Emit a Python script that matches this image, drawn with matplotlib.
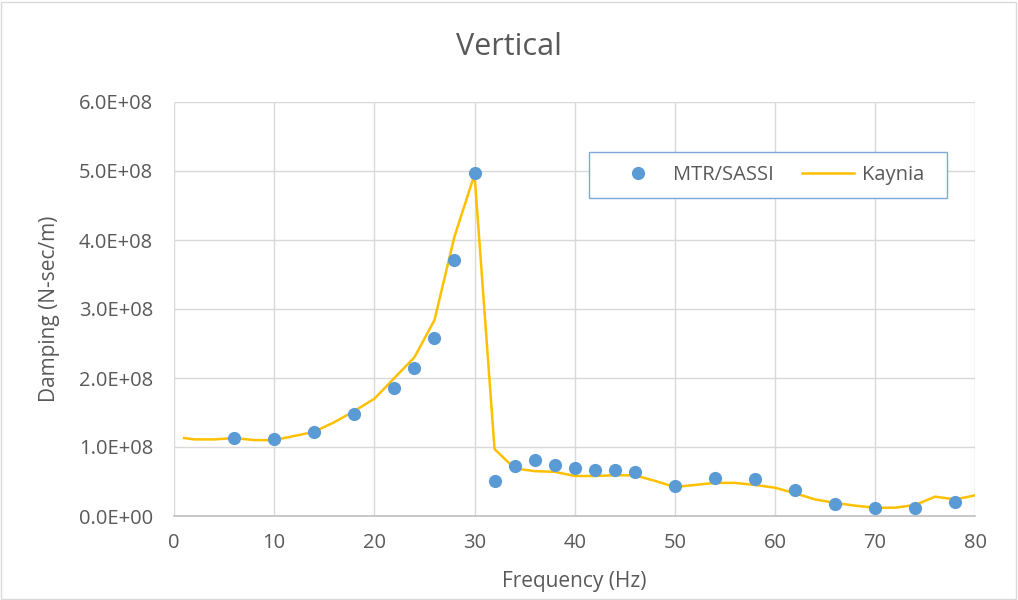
import numpy as np
import matplotlib.pyplot as plt
from matplotlib.patches import Rectangle

plt.rcParams['font.family'] = ['Open Sans', 'DejaVu Sans']

# MTR/SASSI puntos
freq_sassi = [6, 10, 14, 18, 22, 24, 26, 28, 30, 32, 34, 36, 38, 40, 42, 44,
              46, 50, 54, 58, 62, 66, 70, 74, 78]
damp_sassi = [1.13, 1.11, 1.22, 1.48, 1.85, 2.15, 2.58, 3.71, 4.97, 0.51,
              0.72, 0.81, 0.74, 0.69, 0.67, 0.67, 0.64, 0.43, 0.55, 0.54,
              0.37, 0.17, 0.12, 0.12, 0.21]

# Kaynia curva
freq_kaynia = [1, 2, 4, 6, 8, 10, 12, 14, 16, 18, 20, 22, 24, 26, 28, 30, 32,
               34, 36, 38, 40, 42, 44, 46, 48, 50, 52, 54, 56, 58, 60, 62, 64,
               66, 68, 70, 72, 74, 76, 78, 80]
damp_kaynia = [1.13, 1.11, 1.11, 1.13, 1.10, 1.10, 1.16, 1.22, 1.36, 1.52,
               1.70, 2.00, 2.30, 2.84, 4.05, 4.95, 0.97, 0.69, 0.65, 0.64,
               0.58, 0.58, 0.59, 0.59, 0.51, 0.42, 0.45, 0.48, 0.48, 0.45,
               0.41, 0.33, 0.24, 0.19, 0.15, 0.12, 0.12, 0.16, 0.28, 0.24,
               0.30]

escala = 1e8
gris = '#595959'

fig = plt.figure(figsize=(10.18, 6.0), dpi=100)
ax = fig.add_axes([0.171, 0.14, 0.787, 0.69])

ax.plot(freq_sassi, np.array(damp_sassi) * escala, 'o', color='#5b9bd5',
        markersize=9.5, markeredgewidth=0, label='MTR/SASSI', zorder=3)
ax.plot(freq_kaynia, np.array(damp_kaynia) * escala, '-', color='#ffc000',
        linewidth=1.8, label='Kaynia', zorder=2)

ax.set_xlim(0, 80)
ax.set_ylim(0, 6e8)
ax.set_xticks(np.arange(0, 81, 10))
ax.set_yticks(np.arange(0, 6.01e8, 1e8))
ax.set_yticklabels(['%.1fE+08' % (v / 1e8) if v > 0 else '0.0E+00'
                    for v in np.arange(0, 6.01e8, 1e8)])
ax.grid(True, color='#d9d9d9', linewidth=1.0)
ax.set_axisbelow(True)
for lado in ['top', 'right', 'left']:
    ax.spines[lado].set_visible(False)
ax.spines['bottom'].set_color('#bfbfbf')
ax.spines['bottom'].set_linewidth(1.2)
ax.tick_params(axis='y', length=0, labelsize=14.5, colors=gris, pad=15)
ax.tick_params(axis='x', length=0, labelsize=14.5, colors=gris, pad=12)

# rotulos y titulo en coordenadas de figura
fig.text(0.5, 1 - 47 / 600, 'Vertical', fontsize=22, color=gris,
         ha='center', va='center')
fig.text(574.5 / 1018, 1 - 581 / 600, 'Frequency (Hz)', fontsize=15,
         color=gris, ha='center', va='center')
fig.text(50 / 1018, 0.485, 'Damping (N-sec/m)', fontsize=15, color=gris,
         ha='center', va='center', rotation=90)

# leyenda: marco fijo + contenido centrado
ax.add_patch(Rectangle((0.518, 0.768), 0.447, 0.111, transform=ax.transAxes,
                       facecolor='white', edgecolor='#7da7d9', linewidth=1.0,
                       zorder=4))
leg = ax.legend(loc='center', bbox_to_anchor=(0.7416, 0.8237), ncol=2,
                fontsize=14.5, frameon=False, borderaxespad=0,
                handlelength=2.6, handletextpad=0.4, columnspacing=1.4)
leg.set_zorder(5)
for t in leg.get_texts():
    t.set_color(gris)

fig.patches.append(Rectangle((0.001, 0.002), 0.997, 0.995,
                             transform=fig.transFigure, fill=False,
                             edgecolor='#d9d9d9', linewidth=1))

fig.savefig('out.png', dpi=100)
